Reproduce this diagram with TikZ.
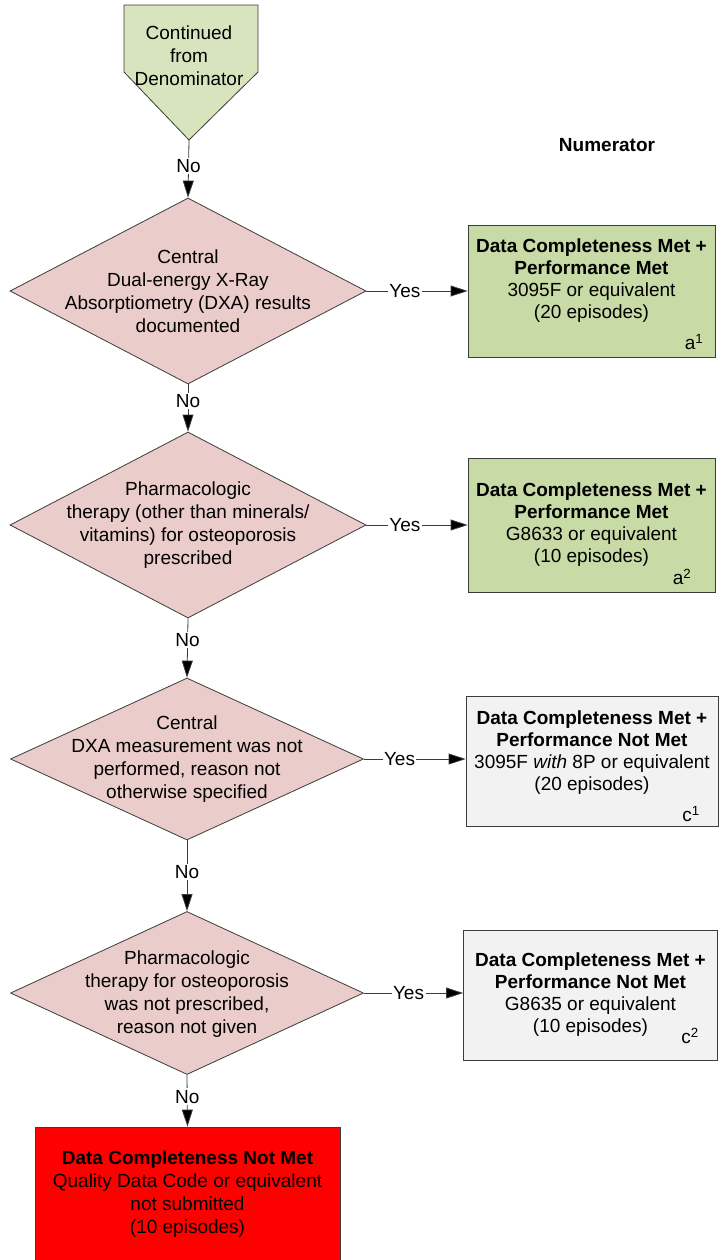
\documentclass[tikz,border=0pt]{standalone}
\usepackage{fontspec}
\setmainfont{Liberation Sans}
\usetikzlibrary{shapes.geometric,arrows.meta}
\definecolor{startgreen}{RGB}{215,228,189}
\definecolor{boxgreen}{RGB}{200,218,165}
\definecolor{diapink}{RGB}{234,204,202}
\definecolor{boxgray}{RGB}{242,242,242}
\definecolor{linegray}{RGB}{60,60,60}
\begin{document}
\begin{tikzpicture}[x=1pt,y=-1pt,
  every node/.style={font=\fontsize{19}{23}\selectfont, inner sep=0pt},
  dia/.style={diamond, draw=linegray, fill=diapink, line width=0.8pt},
  outbox/.style={rectangle, draw=linegray, line width=0.8pt},
  txt/.style={align=center},
  btxt/.style={align=center, font=\fontsize{19}{22}\selectfont},
  sup/.style={font=\fontsize{19}{22}\selectfont},
  conn/.style={draw=linegray, line width=0.8pt, -{Triangle[length=17pt,width=11pt,fill=black]}},
  lab/.style={fill=white, inner sep=1.5pt}
]
\path[use as bounding box] (0,0) rectangle (719,1260);

% start off-page connector
\draw[draw=linegray, fill=startgreen, line width=0.8pt]
  (124,5) -- (258,5) -- (258,72) -- (189,140) -- (124,72) -- cycle;
\node[txt] (start) at (189,56) {Continued\\from\\Denominator};
\coordinate (stip) at (189,140);

\node[font=\fontsize{19}{23}\selectfont\bfseries] (numer) at (607,145) {Numerator};

% diamonds
\node[dia, minimum width=356pt, minimum height=186pt] (d1) at (188,291) {};
\node[txt] (d1t) at (188,291) {Central\\Dual-energy X-Ray\\Absorptiometry (DXA) results\\documented};
\node[dia, minimum width=356pt, minimum height=186pt] (d2) at (188,525) {};
\node[txt] (d2t) at (188,525) {Pharmacologic\\therapy (other than minerals/\\vitamins) for osteoporosis\\prescribed};
\node[dia, minimum width=353pt, minimum height=162pt] (d3) at (187,759) {};
\node[txt] (d3t) at (187,759) {Central\\DXA measurement was not\\performed, reason not\\otherwise specified};
\node[dia, minimum width=353pt, minimum height=163pt] (d4) at (187,993) {};
\node[txt] (d4t) at (187,994) {Pharmacologic\\therapy for osteoporosis\\was not prescribed,\\reason not given};

% outcome boxes
\node[outbox, fill=boxgreen, minimum width=247pt, minimum height=132pt] (b1) at (591.5,291) {};
\node[btxt] (b1t) at (591.5,281) {\textbf{Data Completeness Met +}\\\textbf{Performance Met}\\3095F or equivalent\\(20 episodes)};
\node[sup] (b1s) at (694,342) {a\textsuperscript{1}};

\node[outbox, fill=boxgreen, minimum width=247pt, minimum height=134pt] (b2) at (591.5,525) {};
\node[btxt] (b2t) at (591.5,525) {\textbf{Data Completeness Met +}\\\textbf{Performance Met}\\G8633 or equivalent\\(10 episodes)};
\node[sup] (b2s) at (682,577) {a\textsuperscript{2}};

\node[outbox, fill=boxgray, minimum width=252pt, minimum height=130pt] (b3) at (592,761) {};
\node[btxt] (b3t) at (592,753) {\textbf{Data Completeness Met +}\\\textbf{Performance Not Met}\\3095F \textit{with} 8P or equivalent\\(20 episodes)};
\node[sup] (b3s) at (691,814) {c\textsuperscript{1}};

\node[outbox, fill=boxgray, minimum width=254pt, minimum height=130pt] (b4) at (590.5,995) {};
\node[btxt] (b4t) at (590.5,995) {\textbf{Data Completeness Met +}\\\textbf{Performance Not Met}\\G8635 or equivalent\\(10 episodes)};
\node[sup] (b4s) at (690,1036) {c\textsuperscript{2}};

% not met box
\node[outbox, fill=red, minimum width=305pt, minimum height=140pt] (nm) at (187.5,1197) {};
\node[btxt, font=\fontsize{19}{23}\selectfont] (nmt) at (187.5,1194) {\textbf{Data Completeness Not Met}\\Quality Data Code or equivalent\\not submitted\\(10 episodes)};

% connectors: No
\draw[conn] (stip) -- node[lab, pos=0.45] {No} (d1.north);
\draw[conn] (d1.south) -- node[lab, pos=0.35] {No} (d2.north);
\draw[conn] (d2.south) -- node[lab, pos=0.37] {No} (d3.north);
\draw[conn] (d3.south) -- node[lab, pos=0.45] {No} (d4.north);
\draw[conn] (d4.south) -- node[lab, pos=0.42] {No} (nm.north);

% connectors: Yes
\draw[conn] (d1.east) -- node[lab, pos=0.38] {Yes} (d1.east -| b1.west);
\draw[conn] (d2.east) -- node[lab, pos=0.38] {Yes} (d2.east -| b2.west);
\draw[conn] (d3.east) -- node[lab, pos=0.35] {Yes} (d3.east -| b3.west);
\draw[conn] (d4.east) -- node[lab, pos=0.45] {Yes} (d4.east -| b4.west);
\end{tikzpicture}
\end{document}
